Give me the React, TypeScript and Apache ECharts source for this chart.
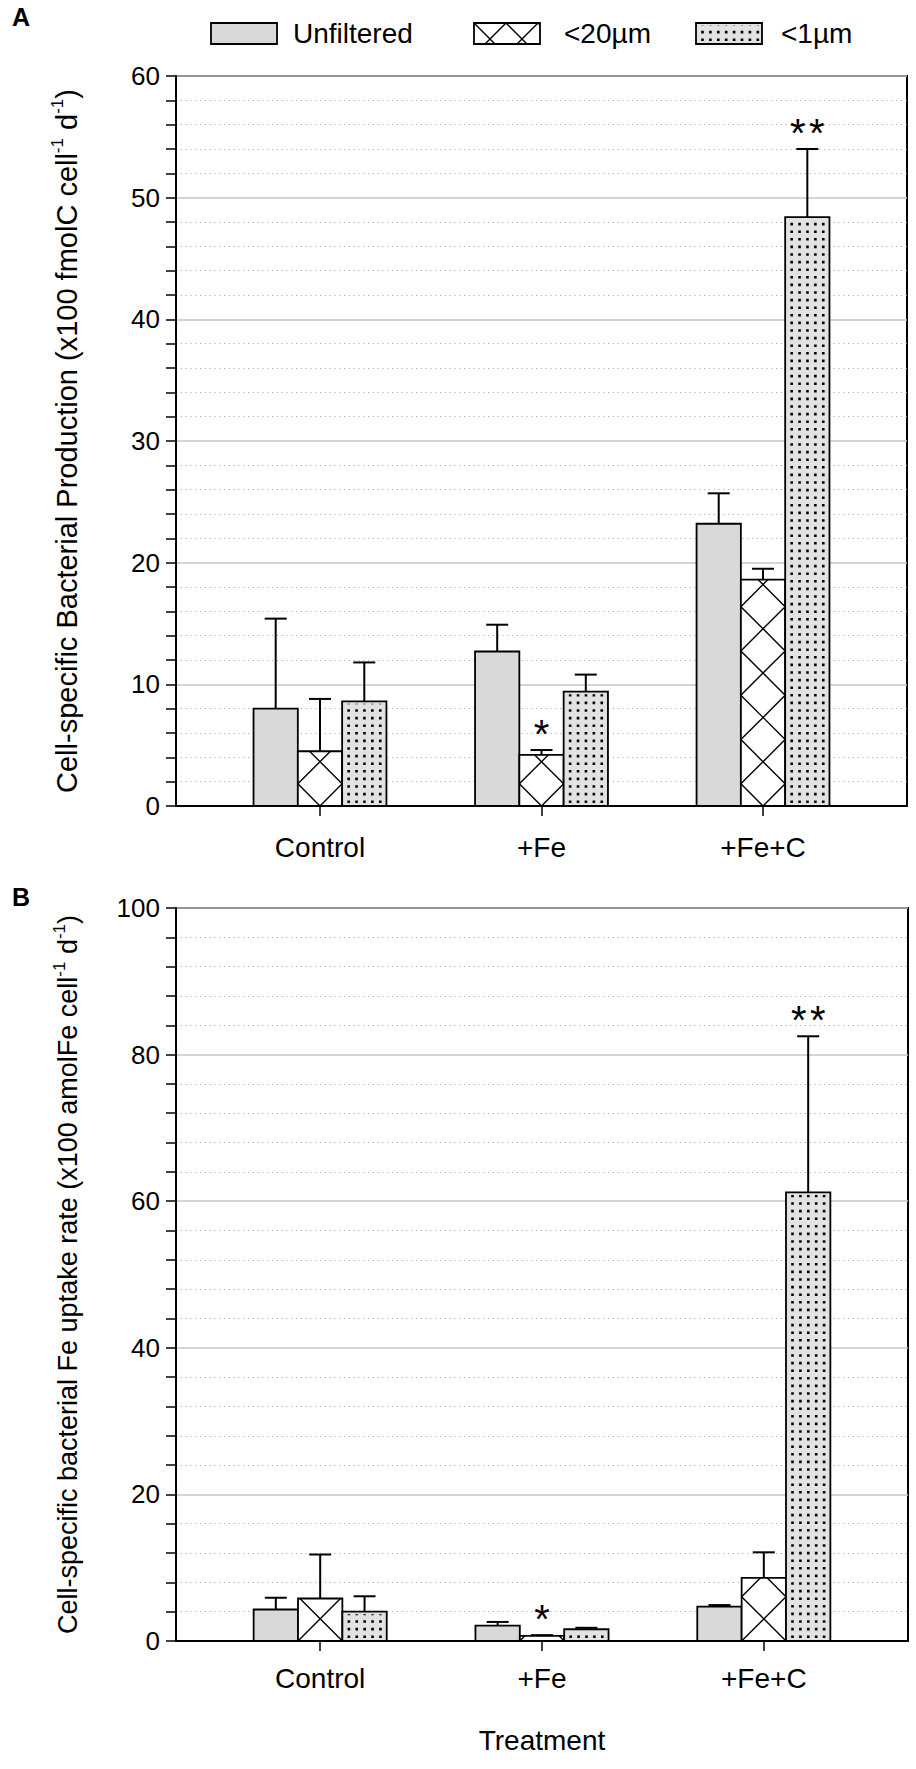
import React, { useEffect, useRef } from 'react';
import * as echarts from 'echarts';

// ---------- data ----------
const categories = ['Control', '+Fe', '+Fe+C'];
const filterNames = ['Unfiltered', '<20µm', '<1µm'];

const yTicksA = [0, 10, 20, 30, 40, 50, 60];
const yTicksB = [0, 20, 40, 60, 80, 100];

// Panel A: cell-specific bacterial production (x100 fmolC cell-1 d-1)
const prodUnfiltered = [8.0, 12.7, 23.2];
const prodUnfilteredErr = [7.4, 2.2, 2.5];
const prod20 = [4.5, 4.2, 18.6];
const prod20Err = [4.3, 0.4, 0.9];
const prod1 = [8.6, 9.4, 48.4];
const prod1Err = [3.2, 1.4, 5.6];
const prodMarks = [['', '', ''], ['', '*', ''], ['', '', '**']];

// Panel B: cell-specific bacterial Fe uptake rate (x100 amolFe cell-1 d-1)
const feUnfiltered = [4.3, 2.1, 4.7];
const feUnfilteredErr = [1.6, 0.5, 0.2];
const fe20 = [5.8, 0.7, 8.6];
const fe20Err = [6.0, 0.1, 3.5];
const fe1 = [4.0, 1.6, 61.2];
const fe1Err = [2.1, 0.2, 21.3];
const feMarks = [['', '', ''], ['', '*', ''], ['', '', '**']];

// ---------- styling ----------
const FONT = '"Liberation Sans", Arial, Helvetica, sans-serif';
const BAR_UNIT = 0.2;
const UNF_FILL = '#d9d9d9';
const DOT_FILL = '#e2e2e2';

function hatchLines(x0: number, y0: number, x1: number, y1: number, P: number, ax: number, ay: number, lw: number) {
  const out: any[] = [];
  const st = { stroke: '#000', lineWidth: lw };
  const b1 = ax + ay;
  const k1a = Math.floor((x0 + y0 - b1) / P) - 1;
  const k1b = Math.ceil((x1 + y1 - b1) / P) + 1;
  for (let k = k1a; k <= k1b; k++) {
    const c = b1 + k * P;
    const xa = Math.max(x0, c - y1);
    const xb = Math.min(x1, c - y0);
    if (xb - xa > 0.3) out.push({ type: 'line', shape: { x1: xa, y1: c - xa, x2: xb, y2: c - xb }, style: st });
  }
  const b2 = ax - ay;
  const k2a = Math.floor((x0 - y1 - b2) / P) - 1;
  const k2b = Math.ceil((x1 - y0 - b2) / P) + 1;
  for (let k = k2a; k <= k2b; k++) {
    const c = b2 + k * P;
    const xa = Math.max(x0, c + y0);
    const xb = Math.min(x1, c + y1);
    if (xb - xa > 0.3) out.push({ type: 'line', shape: { x1: xa, y1: xa - c, x2: xb, y2: xb - c }, style: st });
  }
  return out;
}

function dotColumns(x0: number, y0: number, x1: number, y1: number) {
  const out: any[] = [];
  if (y1 - y0 < 5) return out;
  for (let cx = x0 + 6.5; cx < x1 - 3; cx += 7.9) {
    out.push({
      type: 'line',
      shape: { x1: cx, y1: y1 - 3, x2: cx, y2: y0 + 2.5 },
      style: { stroke: '#000', lineWidth: 2.6, lineDash: [2.6, 5.0] },
    });
  }
  return out;
}

function fillElements(kind: number, x0: number, y0: number, x1: number, y1: number, ax: number, ay: number, P: number) {
  const w = x1 - x0;
  const h = y1 - y0;
  const els: any[] = [];
  const fill = kind === 0 ? UNF_FILL : kind === 1 ? '#ffffff' : DOT_FILL;
  els.push({ type: 'rect', shape: { x: x0, y: y0, width: w, height: h }, style: { fill, stroke: 'none' } });
  if (kind === 1) els.push(...hatchLines(x0, y0, x1, y1, P, ax, ay, 1.4));
  if (kind === 2) els.push(...dotColumns(x0, y0, x1, y1));
  els.push({ type: 'rect', shape: { x: x0, y: y0, width: w, height: h }, style: { fill: 'none', stroke: '#000', lineWidth: 1.8 } });
  return els;
}

function buildItems(means: number[][], errs: number[][], marks: string[][]) {
  const items: any[] = [];
  for (let s = 0; s < 3; s++) {
    for (let c = 0; c < 3; c++) {
      items.push({ c, s, mean: means[s][c], err: errs[s][c], mark: marks[s][c] });
    }
  }
  return items;
}

const itemsA = buildItems([prodUnfiltered, prod20, prod1], [prodUnfilteredErr, prod20Err, prod1Err], prodMarks);
const itemsB = buildItems([feUnfiltered, fe20, fe1], [feUnfilteredErr, fe20Err, fe1Err], feMarks);

function renderBar(items: any[], anchor: 'center' | 'corner') {
  return (params: any, api: any) => {
    const it = items[params.dataIndex];
    const xc = api.value(0);
    const mean = api.value(1);
    const err = api.value(2);
    const tl = api.coord([xc - BAR_UNIT / 2, mean]);
    const br = api.coord([xc + BAR_UNIT / 2, 0]);
    const tp = api.coord([xc, mean + err]);
    const x0 = tl[0];
    const y0 = tl[1];
    const x1 = br[0];
    const y1 = br[1];
    const cx = (x0 + x1) / 2;
    const ax = anchor === 'center' ? cx : x0;
    const children = fillElements(it.s, x0, y0, x1, y1, ax, y1, x1 - x0);
    children.push({ type: 'line', shape: { x1: cx, y1: y0, x2: cx, y2: tp[1] }, style: { stroke: '#000', lineWidth: 2 } });
    children.push({ type: 'line', shape: { x1: cx - 11, y1: tp[1], x2: cx + 11, y2: tp[1] }, style: { stroke: '#000', lineWidth: 2 } });
    if (it.mark) {
      const n = it.mark.length;
      for (let i = 0; i < n; i++) {
        children.push({
          type: 'text',
          style: {
            text: '*',
            x: cx + (i - (n - 1) / 2) * 19,
            y: tp[1] - 25 + 9,
            fill: '#000',
            fontSize: 40,
            fontFamily: FONT,
            align: 'center',
            verticalAlign: 'middle',
          },
        });
      }
    }
    return { type: 'group', children };
  };
}

function richName(size: number) {
  return {
    n: { fontSize: size, fontFamily: FONT, color: '#000', lineHeight: size + 3, verticalAlign: 'bottom' },
    s: { fontSize: 17, fontFamily: FONT, color: '#000', lineHeight: 18, verticalAlign: 'top', padding: [0, 0, 24, 0] },
  };
}

function yAxisOpt(gridIndex: number, ticks: number[], name: string, nameSize: number) {
  return {
    type: 'value',
    gridIndex,
    min: ticks[0],
    max: ticks[ticks.length - 1],
    interval: ticks[1] - ticks[0],
    axisLine: { show: true, onZero: false, lineStyle: { color: '#000', width: 2 } },
    axisTick: { show: true, length: 10, lineStyle: { color: '#000', width: 1.5 } },
    minorTick: { show: true, splitNumber: 5, length: 10, lineStyle: { color: '#000', width: 1.5 } },
    splitLine: { show: true, lineStyle: { color: '#c6c6c6', width: 1.5 } },
    minorSplitLine: { show: true, lineStyle: { color: '#b0b0b0', width: 1.2, type: [1.2, 3.6] } },
    axisLabel: { fontSize: 26, fontFamily: FONT, color: '#000', margin: 16 },
    name,
    nameLocation: 'middle',
    nameRotate: 90,
    nameGap: 95,
    nameTextStyle: { rich: richName(nameSize) },
  };
}

function xAxisOpt(gridIndex: number, margin: number, extra: any) {
  return {
    type: 'value',
    gridIndex,
    min: -0.65,
    max: 2.65,
    axisLine: { show: true, onZero: false, lineStyle: { color: '#000', width: 2 } },
    axisTick: { show: true, customValues: [0, 1, 2], length: 10, lineStyle: { color: '#000', width: 1.5 } },
    axisLabel: {
      customValues: [0, 1, 2],
      formatter: (v: number) => {
        const r = Math.round(v);
        return Math.abs(v - r) < 1e-6 && categories[r] ? categories[r] : '';
      },
      fontSize: 28,
      fontFamily: FONT,
      color: '#000',
      margin,
    },
    splitLine: { show: false },
    ...extra,
  };
}

function legendGraphic() {
  const els: any[] = [];
  const sw = [211, 474, 696];
  const tx = [293, 564, 781];
  for (let s = 0; s < 3; s++) {
    const x0 = sw[s];
    const y0 = 23;
    const x1 = x0 + 66;
    const y1 = 44;
    fillElements(s, x0, y0, x1, y1, x0, y0, 32).forEach((e) => els.push({ ...e, silent: true }));
    els.push({
      type: 'text',
      x: tx[s],
      y: 33,
      silent: true,
      style: { text: filterNames[s], fontSize: 28, fontFamily: FONT, fill: '#000', align: 'left', verticalAlign: 'middle' },
    });
  }
  els.push({ type: 'text', x: 12, y: 17, silent: true, style: { text: 'A', fontSize: 25, fontWeight: 'bold', fontFamily: FONT, fill: '#000', align: 'left', verticalAlign: 'middle' } });
  els.push({ type: 'text', x: 12, y: 897, silent: true, style: { text: 'B', fontSize: 25, fontWeight: 'bold', fontFamily: FONT, fill: '#000', align: 'left', verticalAlign: 'middle' } });
  return els;
}

export default function App() {
  const ref = useRef<HTMLDivElement>(null);
  useEffect(() => {
    document.body.style.margin = '0';
    if (!ref.current) return;
    const chart = echarts.init(ref.current, null, { renderer: 'svg' });
    const nameA = '{n|Cell-specific Bacterial Production (x100 fmolC cell}{s|-1}{n| d}{s|-1}{n|)}';
    const nameB = '{n|Cell-specific bacterial Fe uptake rate (x100 amolFe cell}{s|-1}{n| d}{s|-1}{n|)}';
    chart.setOption({
      animation: false,
      backgroundColor: '#ffffff',
      textStyle: { fontFamily: FONT },
      grid: [
        { left: 176, top: 76, width: 731, height: 730, show: true, borderColor: '#000', borderWidth: 2, backgroundColor: 'transparent' },
        { left: 176, top: 908, width: 732, height: 733, show: true, borderColor: '#000', borderWidth: 2, backgroundColor: 'transparent' },
      ],
      xAxis: [
        xAxisOpt(0, 27, {}),
        xAxisOpt(1, 23, {
          name: 'Treatment',
          nameLocation: 'middle',
          nameGap: 85,
          nameTextStyle: { fontSize: 28, fontFamily: FONT, color: '#000' },
        }),
      ],
      yAxis: [yAxisOpt(0, yTicksA, nameA, 29), yAxisOpt(1, yTicksB, nameB, 27)],
      graphic: legendGraphic(),
      series: [
        {
          type: 'custom',
          xAxisIndex: 0,
          yAxisIndex: 0,
          silent: true,
          clip: false,
          z: 3,
          renderItem: renderBar(itemsA, 'center'),
          encode: { x: 0, y: 1 },
          data: itemsA.map((it) => [it.c + (it.s - 1) * BAR_UNIT, it.mean, it.err]),
        },
        {
          type: 'custom',
          xAxisIndex: 1,
          yAxisIndex: 1,
          silent: true,
          clip: false,
          z: 3,
          renderItem: renderBar(itemsB, 'corner'),
          encode: { x: 0, y: 1 },
          data: itemsB.map((it) => [it.c + (it.s - 1) * BAR_UNIT, it.mean, it.err]),
        },
      ],
    });
    return () => chart.dispose();
  }, []);
  return <div ref={ref} style={{ width: 916, height: 1769 }} />;
}
